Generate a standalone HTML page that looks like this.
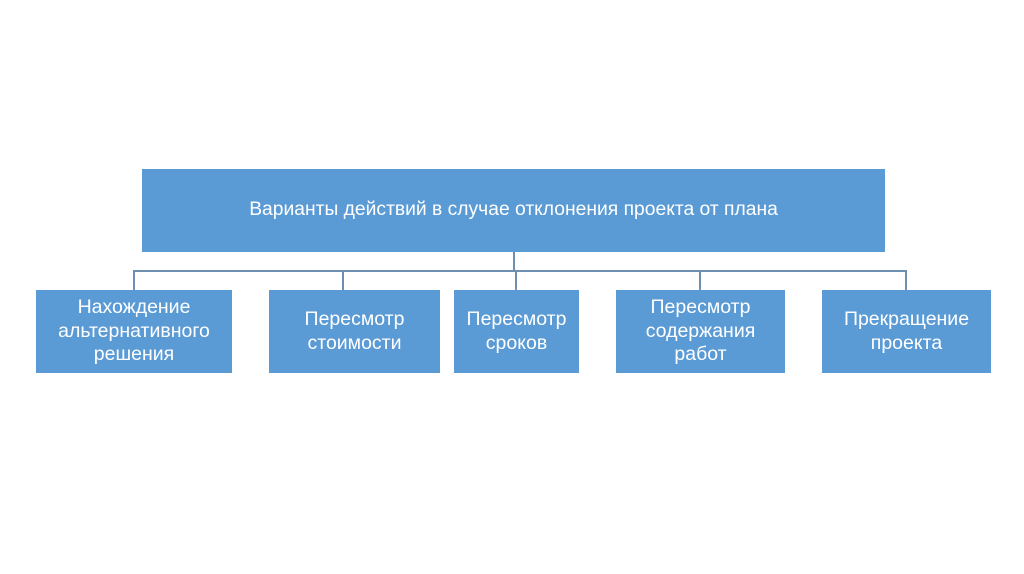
<!DOCTYPE html>
<html><head><meta charset="utf-8"><style>
body{margin:0;width:1024px;height:574px;background:#fff;position:relative;overflow:hidden;font-family:"Liberation Sans","DejaVu Sans",sans-serif}
.b{position:absolute;background:#5b9bd5;color:#fff;display:flex;align-items:center;justify-content:center;text-align:center;font-size:19.5px;line-height:23.5px}
.l{position:absolute;background:#6e8fb0}
</style></head><body>
<div class="b" style="left:142px;top:169px;width:743px;height:83px;font-size:19.3px;padding-bottom:2px;box-sizing:border-box">Варианты действий в случае отклонения проекта от плана</div>
<div class="l" style="left:513px;top:252px;width:2px;height:20px"></div>
<div class="l" style="left:134px;top:270px;width:773px;height:2px"></div>
<div class="l" style="left:133px;top:270px;width:2px;height:20px"></div>
<div class="l" style="left:342px;top:270px;width:2px;height:20px"></div>
<div class="l" style="left:515px;top:270px;width:2px;height:20px"></div>
<div class="l" style="left:699px;top:270px;width:2px;height:20px"></div>
<div class="l" style="left:905px;top:270px;width:2px;height:20px"></div>
<div class="b" style="left:36px;top:290px;width:196px;height:83px">Нахождение<br>альтернативного<br>решения</div>
<div class="b" style="left:269px;top:290px;width:171px;height:83px">Пересмотр<br>стоимости</div>
<div class="b" style="left:454px;top:290px;width:125px;height:83px">Пересмотр<br>сроков</div>
<div class="b" style="left:616px;top:290px;width:169px;height:83px">Пересмотр<br>содержания<br>работ</div>
<div class="b" style="left:822px;top:290px;width:169px;height:83px">Прекращение<br>проекта</div>
</body></html>
